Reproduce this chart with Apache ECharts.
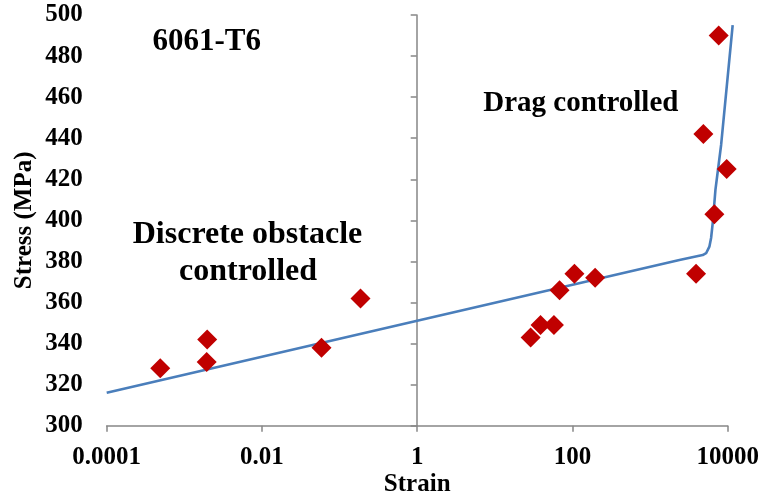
<!DOCTYPE html>
<html>
<head>
<meta charset="utf-8">
<script src="https://cdn.jsdelivr.net/npm/echarts@6/dist/echarts.min.js"></script>
<style>html,body{margin:0;padding:0;background:#fff}#c{width:762px;height:498px}</style>
</head>
<body>
<div id="c"></div>
<script>
// Measured data points (strain, stress in MPa)
var strainValues = [0.00049, 0.00194, 0.00197, 0.0585, 0.186, 28.9, 38.8, 57.7, 68.2, 106, 196, 3915, 6740, 9710, 4860, 7660];
var stressValues = [328, 331, 342, 338, 362, 343, 349, 349, 366, 374, 372, 374, 403, 425, 442, 490];
// Fitted curve
var fitStrain = [0.0001, 1, 2388, 4764, 5272, 5808, 6110, 6412, 6950, 8225, 11590];
var fitStress = [316, 351.1, 380.7, 383.1, 384.0, 387.2, 391.4, 398.6, 414.8, 436.7, 495.1];
var xTickLabels = ['0.0001', '0.01', '1', '100', '10000'];
var yMin = 300, yMax = 500, yStep = 20;

var FONT = '"Liberation Serif", "Times New Roman", serif';
var AXIS_GRAY = '#868686';

var scatterData = strainValues.map(function (x, i) { return [x, stressValues[i]]; });
var fitData = fitStrain.map(function (x, i) { return [x, fitStress[i]]; });

var W = 762, GL = 106.7, GT = 15, GB = 72.3, GW = 621;
// helper grid reaching the right edge of the canvas, with the same pixels per decade,
// so the fit line can run slightly past 10000 as in the original
var pxPerDecade = GW / 8;
var helperMax = Math.pow(10, -4 + (W - GL) / pxPerDecade);

var chart = echarts.init(document.getElementById('c'));
chart.setOption({
  animation: false,
  backgroundColor: '#fff',
  grid: [
    { left: GL, width: GW, top: GT, bottom: GB, containLabel: false, outerBoundsMode: 'none' },
    { left: GL, right: 0, top: GT, bottom: GB, containLabel: false, outerBoundsMode: 'none' }
  ],
  xAxis: [{
    type: 'log', logBase: 10, min: 0.0001, max: 10000, interval: 2, gridIndex: 0,
    name: 'Strain', nameLocation: 'middle', nameGap: 46, nameMoveOverlap: false,
    nameTextStyle: { fontFamily: FONT, fontWeight: 'bold', fontSize: 25, color: '#000' },
    axisLine: { show: true, lineStyle: { color: AXIS_GRAY, width: 1.5 } },
    axisTick: { show: true, inside: false, length: 6, lineStyle: { color: AXIS_GRAY, width: 1.5 } },
    minorTick: { show: false },
    splitLine: { show: false },
    axisLabel: {
      margin: 19, fontFamily: FONT, fontWeight: 'bold', fontSize: 25, color: '#000',
      showMinLabel: true, showMaxLabel: true,
      formatter: function (v) {
        var e = Math.round(Math.log(v) / Math.LN10);
        var idx = (e + 4) / 2;
        return xTickLabels[idx] !== undefined ? xTickLabels[idx] : '';
      }
    }
  }, {
    type: 'log', logBase: 10, min: 0.0001, max: helperMax, gridIndex: 1, show: false,
    splitLine: { show: false }
  }],
  yAxis: [{
    type: 'value', min: yMin, max: yMax, interval: yStep, position: 'left', gridIndex: 0,
    name: 'Stress (MPa)', nameLocation: 'middle', nameGap: 70, nameMoveOverlap: false,
    nameTextStyle: { fontFamily: FONT, fontWeight: 'bold', fontSize: 25, color: '#000' },
    axisLine: { show: false }, axisTick: { show: false }, splitLine: { show: false },
    axisLabel: { margin: 24, fontFamily: FONT, fontWeight: 'bold', fontSize: 25, color: '#000' }
  }, {
    type: 'value', min: yMin, max: yMax, interval: yStep, position: 'left', offset: -310, gridIndex: 0,
    axisLine: { show: true, lineStyle: { color: AXIS_GRAY, width: 1.5 } },
    axisTick: { show: true, inside: false, length: 6, lineStyle: { color: AXIS_GRAY, width: 1.5 } },
    axisLabel: { show: false }, splitLine: { show: false }
  }, {
    type: 'value', min: yMin, max: yMax, gridIndex: 1, show: false, splitLine: { show: false }
  }],
  graphic: [
    { type: 'text', x: 206.7, y: 42, style: { text: '6061-T6', x: 0, y: 0, align: 'center', verticalAlign: 'middle', font: 'bold 31px ' + FONT, fill: '#000' } },
    { type: 'text', x: 580.8, y: 104, style: { text: 'Drag controlled', x: 0, y: 0, align: 'center', verticalAlign: 'middle', font: 'bold 29px ' + FONT, fill: '#000' } },
    { type: 'text', x: 247.5, y: 235, style: { text: 'Discrete obstacle', x: 0, y: 0, align: 'center', verticalAlign: 'middle', font: 'bold 32px ' + FONT, fill: '#000' } },
    { type: 'text', x: 248, y: 272, style: { text: 'controlled', x: 0, y: 0, align: 'center', verticalAlign: 'middle', font: 'bold 32px ' + FONT, fill: '#000' } }
  ],
  series: [{
    type: 'line', data: fitData, xAxisIndex: 1, yAxisIndex: 2, showSymbol: false, clip: false,
    lineStyle: { color: '#4A7EBB', width: 2.6 }, z: 3
  }, {
    type: 'scatter', data: scatterData, xAxisIndex: 0, yAxisIndex: 0, symbol: 'diamond', symbolSize: 20,
    itemStyle: { color: '#C00000', opacity: 1 }, z: 4
  }]
});
</script>
</body>
</html>
